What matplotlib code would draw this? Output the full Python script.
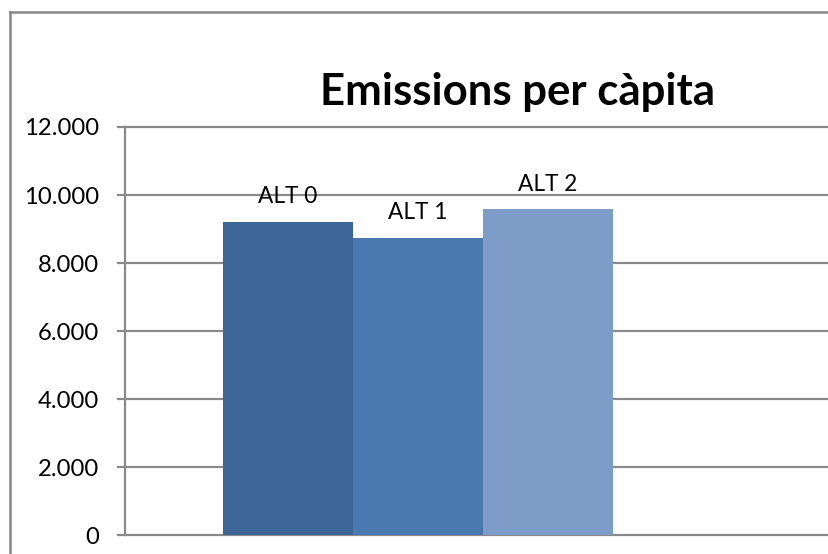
import matplotlib
matplotlib.use("Agg")
import matplotlib.pyplot as plt
from matplotlib.lines import Line2D
from matplotlib.ticker import FuncFormatter, MultipleLocator

plt.rcParams["font.family"] = ["Lato", "DejaVu Sans"]

# data
series = ["ALT 0", "ALT 1", "ALT 2"]
values = [9200, 8730, 9580]
colors = ["#3d6596", "#4a79b0", "#7e9cc8"]
title = "Emissions per càpita"

W, H = 829, 554
fig = plt.figure(figsize=(W / 100, H / 100), dpi=100)
ax = fig.add_axes([125 / W, (H - 535) / H, 1 - 125 / W, 408 / H])

grid_col = "#8a8a8a"
xpos = list(range(len(series)))
ax.bar(xpos, values, width=1.0, color=colors, zorder=3)

for x, v, lab in zip(xpos, values, series):
    ax.annotate(lab, (x, v), xytext=(0, 13.5), textcoords="offset points",
                ha="center", va="baseline", fontsize=16.3, color="black", zorder=4)

ax.set_ylim(0, 12000)
ax.set_xlim(-1.254, 4.162)
ax.yaxis.set_major_locator(MultipleLocator(2000))
ax.yaxis.set_major_formatter(FuncFormatter(lambda v, _: f"{int(v):,}".replace(",", ".")))
ax.grid(axis="y", color=grid_col, linewidth=1.6, zorder=1)
ax.set_xticks([])
for s in ("top", "right", "bottom"):
    ax.spines[s].set_visible(False)
ax.spines["left"].set_color(grid_col)
ax.spines["left"].set_linewidth(1.6)
ax.tick_params(axis="y", length=5.8, width=1.6, color=grid_col, pad=13,
               labelsize=17.2, labelcolor="black")
for gl in ax.get_ygridlines():
    gl.set_clip_on(False)

fig.text(518 / W, 1 - 105 / H, title, ha="center", va="baseline",
         fontsize=31.5, fontweight="bold")

# outer chart border (right/bottom fall outside the picture)
fig.add_artist(Line2D([10 / W, 10 / W], [0, 1 - 12 / H], color="#878787", lw=1.8))
fig.add_artist(Line2D([10 / W, 1], [1 - 12 / H, 1 - 12 / H], color="#878787", lw=1.8))

fig.savefig("out.png", dpi=100)
